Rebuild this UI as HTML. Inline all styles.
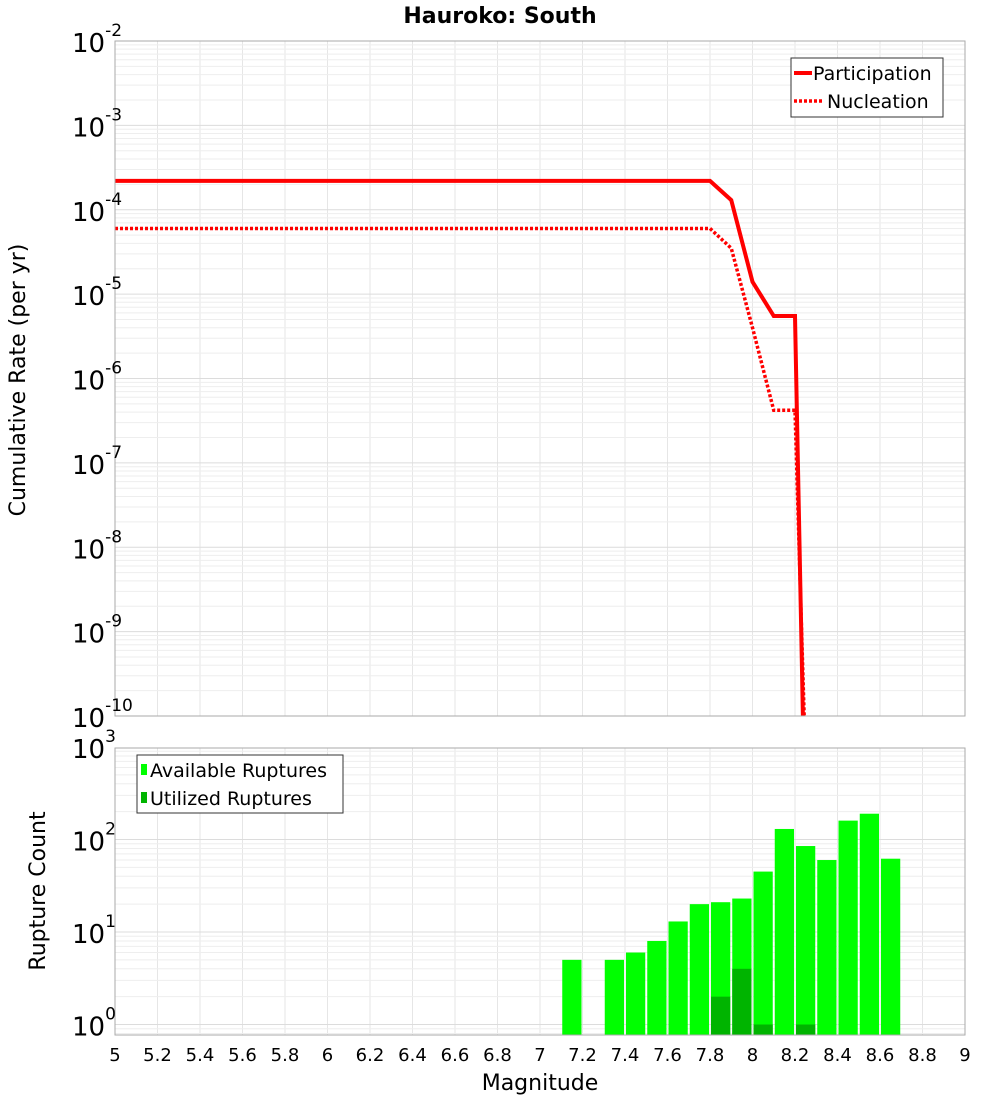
<!DOCTYPE html>
<html><head><meta charset="utf-8"><style>
body{margin:0;background:#fff;width:1000px;height:1100px;overflow:hidden;font-family:"DejaVu Sans","Liberation Sans",sans-serif}
svg text{font-family:"DejaVu Sans","Liberation Sans",sans-serif}
</style></head><body>
<svg id="c" width="1000" height="1100"></svg>
<script>
const partX=[5,7.8,7.9,8.0,8.1,8.2,8.245];
const partY=[2.2e-4,2.2e-4,1.3e-4,1.4e-5,5.5e-6,5.5e-6,1e-11];
const nuclX=[5,7.8,7.9,8.0,8.1,8.2,8.255];
const nuclY=[6e-5,6e-5,3.5e-5,4e-6,4.2e-7,4.2e-7,1e-11];
const binStart=[7.1,7.3,7.4,7.5,7.6,7.7,7.8,7.9,8.0,8.1,8.2,8.3,8.4,8.5,8.6];
const availCounts=[5,5,6,8,13,20,21,23,45,130,85,60,160,190,62];
const utilStart=[7.8,7.9,8.0,8.2];
const utilCounts=[2,4,1,1];
const xTicks=[5,5.2,5.4,5.6,5.8,6,6.2,6.4,6.6,6.8,7,7.2,7.4,7.6,7.8,8,8.2,8.4,8.6,8.8,9];
const topExps=[-2,-3,-4,-5,-6,-7,-8,-9,-10];
const botExps=[3,2,1,0];

const svg=document.getElementById('c');const NS='http://www.w3.org/2000/svg';
function mk(t,a,p){const e=document.createElementNS(NS,t);for(const k in a)e.setAttribute(k,a[k]);(p||svg).appendChild(e);return e;}
const L=115,R=965,T1=41,B1=716,T2=748,B2=1035;
const X=v=>L+(v-5)*(R-L)/4;
const Y1=v=>T1+(-2-Math.log10(v))*(B1-T1)/8;
const Y2=v=>1024.5-Math.log10(v)*92.5;

// grids
const g=mk('g',{});

for(let v=5;v<=9.001;v+=0.2){mk('line',{x1:X(v),x2:X(v),y1:T1,y2:B1,stroke:'#e6e6e6'},g);mk('line',{x1:X(v),x2:X(v),y1:T2,y2:B2,stroke:'#e6e6e6'},g);}
for(let e=-10;e<-2;e++)for(let m=1;m<10;m++){const y=Y1(m*Math.pow(10,e));mk('line',{x1:L,x2:R,y1:y,y2:y,stroke:m==1?'#dcdcdc':'#eeeeee'},g);}
for(let e=-1;e<3;e++)for(let m=1;m<10;m++){const y=Y2(m*Math.pow(10,e));if(y<T2||y>B2)continue;mk('line',{x1:L,x2:R,y1:y,y2:y,stroke:m==1?'#dcdcdc':'#eeeeee'},g);}

// top lines
const clip=mk('clipPath',{id:'cp'});mk('rect',{x:L,y:T1,width:R-L,height:B1-T1},clip);
let p=mk('polyline',{points:partX.map((x,i)=>X(x)+','+Y1(partY[i])).join(' '),fill:'none',stroke:'#ff0000','stroke-width':4,'clip-path':'url(#cp)'});

p=mk('polyline',{points:nuclX.map((x,i)=>X(x)+','+Y1(nuclY[i])).join(' '),fill:'none',stroke:'#ff0000','stroke-width':3.5,'stroke-dasharray':'3 2','clip-path':'url(#cp)'});


// bars
const base=B2;
binStart.forEach((b,i)=>{const r=mk('rect',{x:X(b)+1,y:Y2(availCounts[i]),width:X(b+0.1)-X(b)-2,height:base-Y2(availCounts[i]),fill:'#00ff00'});
});
utilStart.forEach((b,i)=>{const r=mk('rect',{x:X(b)+1,y:Y2(utilCounts[i]),width:X(b+0.1)-X(b)-2,height:base-Y2(utilCounts[i]),fill:'#00b400'});
});

// frames
mk('rect',{x:L,y:T1,width:R-L,height:B1-T1,fill:'none',stroke:'#aaa'});
mk('rect',{x:L,y:T2,width:R-L,height:B2-T2,fill:'none',stroke:'#aaa'});

// y tick labels
function pow(y,e,p){const t=mk('text',{x:110,y:y+11,'font-size':26,'text-anchor':'end',fill:'#000'});

const a=mk('tspan',{},t);a.textContent='10';const s=mk('tspan',{dy:-16,'font-size':17},t);s.textContent=String(e);
t.setAttribute('x',72);t.setAttribute('text-anchor','start');}
topExps.forEach(e=>pow(Y1(Math.pow(10,e)),e));
botExps.forEach(e=>pow(Y2(Math.pow(10,e)),e));
// x ticks
xTicks.forEach(v=>{const t=mk('text',{x:X(v),y:1061,'font-size':18,'text-anchor':'middle'});t.textContent=String(v);
});

function txt(s,a,n){const t=mk('text',a);t.textContent=s;return t;}
txt('Hauroko: South',{x:500,y:23,'font-size':22,'font-weight':'bold','text-anchor':'middle'},'chart-title');
txt('Magnitude',{x:540,y:1090,'font-size':22,'text-anchor':'middle'},'x-axis-title');
txt('Cumulative Rate (per yr)',{x:0,y:0,'font-size':22,'text-anchor':'middle',transform:'translate(25,380) rotate(-90)'},'y-axis-title-top');
txt('Rupture Count',{x:0,y:0,'font-size':22,'text-anchor':'middle',transform:'translate(45,891) rotate(-90)'},'y-axis-title-bottom');

// legends
const lg=mk('g',{});
mk('rect',{x:791,y:58,width:152,height:59,fill:'#fff',stroke:'#333'},lg);
mk('line',{x1:794,x2:812,y1:73,y2:73,stroke:'#f00','stroke-width':4},lg);
mk('line',{x1:794,x2:822,y1:101,y2:101,stroke:'#f00','stroke-width':3.5,'stroke-dasharray':'3 2'},lg);
txt('Participation',{x:813,y:80,'font-size':19},'legend-entry-participation');
txt('Nucleation',{x:827,y:108,'font-size':19},'legend-entry-nucleation');
const lb=mk('g',{});
mk('rect',{x:137,y:755,width:206,height:58,fill:'#fff',stroke:'#333'},lb);
mk('rect',{x:141,y:764,width:6,height:11,fill:'#00ff00'},lb);
mk('rect',{x:141,y:792,width:6,height:11,fill:'#00b400'},lb);
txt('Available Ruptures',{x:150,y:777,'font-size':19},'legend-entry-available');
txt('Utilized Ruptures',{x:150,y:805,'font-size':19},'legend-entry-utilized');
</script>
</body></html>
